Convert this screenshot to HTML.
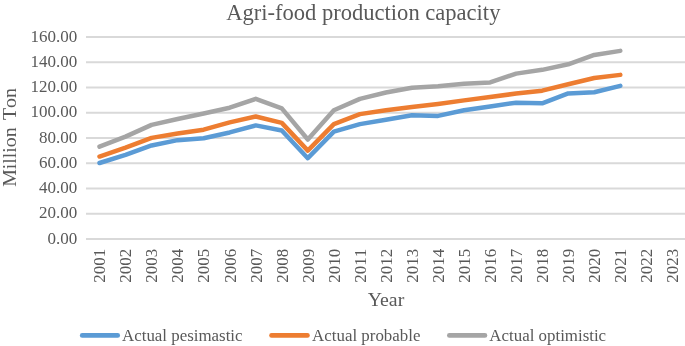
<!DOCTYPE html>
<html><head><meta charset="utf-8"><style>
html,body{margin:0;padding:0;background:#fff;width:685px;height:346px;overflow:hidden}
svg{display:block;will-change:transform;font-kerning:none;font-feature-settings:"kern" 0;font-family:"Liberation Serif",serif;fill:#595959}
</style></head><body>
<svg width="685" height="346" viewBox="0 0 685 346">
<g stroke="#D9D9D9" stroke-width="2"><line x1="86" x2="685" y1="239.00" y2="239.00"/><line x1="86" x2="685" y1="213.75" y2="213.75"/><line x1="86" x2="685" y1="188.50" y2="188.50"/><line x1="86" x2="685" y1="163.25" y2="163.25"/><line x1="86" x2="685" y1="138.00" y2="138.00"/><line x1="86" x2="685" y1="112.75" y2="112.75"/><line x1="86" x2="685" y1="87.50" y2="87.50"/><line x1="86" x2="685" y1="62.25" y2="62.25"/><line x1="86" x2="685" y1="37.00" y2="37.00"/></g>
<text x="363.3" y="20.1" font-size="22.55" text-anchor="middle">Agri-food production capacity</text>
<g font-size="17" text-anchor="end"><text x="77.3" y="243.70">0.00</text><text x="77.3" y="218.45">20.00</text><text x="77.3" y="193.20">40.00</text><text x="77.3" y="167.95">60.00</text><text x="77.3" y="142.70">80.00</text><text x="77.3" y="117.45">100.00</text><text x="77.3" y="92.20">120.00</text><text x="77.3" y="66.95">140.00</text><text x="77.3" y="41.70">160.00</text></g>
<g font-size="17" text-anchor="end"><text transform="translate(105.30,248.8) rotate(-90)">2001</text><text transform="translate(131.34,248.8) rotate(-90)">2002</text><text transform="translate(157.38,248.8) rotate(-90)">2003</text><text transform="translate(183.42,248.8) rotate(-90)">2004</text><text transform="translate(209.46,248.8) rotate(-90)">2005</text><text transform="translate(235.50,248.8) rotate(-90)">2006</text><text transform="translate(261.54,248.8) rotate(-90)">2007</text><text transform="translate(287.58,248.8) rotate(-90)">2008</text><text transform="translate(313.62,248.8) rotate(-90)">2009</text><text transform="translate(339.66,248.8) rotate(-90)">2010</text><text transform="translate(365.70,248.8) rotate(-90)">2011</text><text transform="translate(391.74,248.8) rotate(-90)">2012</text><text transform="translate(417.78,248.8) rotate(-90)">2013</text><text transform="translate(443.82,248.8) rotate(-90)">2014</text><text transform="translate(469.86,248.8) rotate(-90)">2015</text><text transform="translate(495.90,248.8) rotate(-90)">2016</text><text transform="translate(521.94,248.8) rotate(-90)">2017</text><text transform="translate(547.98,248.8) rotate(-90)">2018</text><text transform="translate(574.02,248.8) rotate(-90)">2019</text><text transform="translate(600.06,248.8) rotate(-90)">2020</text><text transform="translate(626.10,248.8) rotate(-90)">2021</text><text transform="translate(652.14,248.8) rotate(-90)">2022</text><text transform="translate(678.18,248.8) rotate(-90)">2023</text></g>
<text x="386" y="306" font-size="19.83" text-anchor="middle" style="font-kerning:normal;font-feature-settings:normal">Year</text>
<g font-size="19.83"><text transform="translate(16,186.8) rotate(-90)">Million</text><text transform="translate(16,120) rotate(-90)">Ton</text></g>
<g fill="none" stroke-width="4.5" stroke-linejoin="round" stroke-linecap="round">
<polyline stroke="#A5A5A5" points="99.50,146.58 125.54,136.61 151.58,124.87 177.62,119.06 203.66,113.51 229.70,107.70 255.74,98.86 281.78,108.33 307.82,139.51 333.86,110.22 359.90,98.86 385.94,92.55 411.98,87.75 438.02,86.24 464.06,83.71 490.10,82.45 516.14,73.61 542.18,69.83 568.22,64.27 594.26,54.93 620.30,50.89"/>
<polyline stroke="#ED7D31" points="99.50,156.56 125.54,147.72 151.58,137.87 177.62,133.58 203.66,129.67 229.70,122.34 255.74,116.54 281.78,122.85 307.82,150.62 333.86,124.11 359.90,114.14 385.94,110.22 411.98,107.07 438.02,103.91 464.06,100.38 490.10,96.97 516.14,93.56 542.18,90.66 568.22,84.22 594.26,78.03 620.30,74.88"/>
<polyline stroke="#5B9BD5" points="99.50,163.00 125.54,154.92 151.58,145.45 177.62,140.15 203.66,138.25 229.70,132.44 255.74,125.38 281.78,130.43 307.82,158.20 333.86,131.69 359.90,124.11 385.94,119.69 411.98,115.28 438.02,115.91 464.06,110.22 490.10,106.44 516.14,102.65 542.18,103.28 568.22,93.43 594.26,92.23 620.30,85.86"/>
</g>
<g stroke-width="4.7" stroke-linecap="round">
<line x1="82.2" x2="117.7" y1="335.4" y2="335.4" stroke="#5B9BD5"/>
<line x1="271.55" x2="307.45" y1="335.4" y2="335.4" stroke="#ED7D31"/>
<line x1="449.35" x2="484.95" y1="335.4" y2="335.4" stroke="#A5A5A5"/>
</g>
<g font-size="16.9">
<text x="122" y="340.8">Actual pesimastic</text>
<text x="312.1" y="340.8">Actual probable</text>
<text x="489.3" y="340.8">Actual optimistic</text>
</g>
</svg>
</body></html>
